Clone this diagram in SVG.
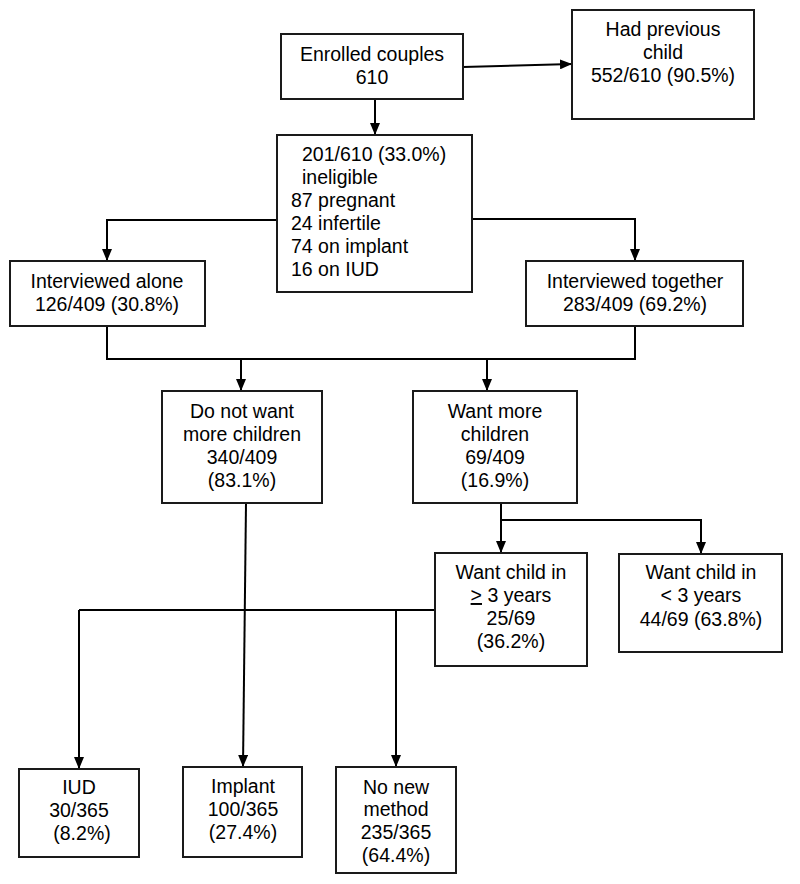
<svg xmlns="http://www.w3.org/2000/svg" width="800" height="884" viewBox="0 0 800 884">
<defs>
<marker id="ah" markerUnits="userSpaceOnUse" markerWidth="12" markerHeight="10" refX="12" refY="5" orient="auto">
<path d="M0,0 L12,5 L0,10 z" fill="#000"/>
</marker>
<style>
.box{fill:#fff;stroke:#1a1a1a;stroke-width:2}
.t{font-family:"Liberation Sans",Arial,sans-serif;font-size:19.5px;fill:#000;text-anchor:middle}
.l{text-anchor:start}
.c{fill:none;stroke:#000;stroke-width:2}
.a{fill:none;stroke:#000;stroke-width:2;marker-end:url(#ah)}
</style>
</defs>
<rect width="800" height="884" fill="#fff"/>
<g id="connectors">
<path class="a" d="M463,67 L572,64"/>
<path class="a" d="M375,99 L375,135"/>
<path class="a" d="M277,220 L107,220 L107,261"/>
<path class="a" d="M472,219 L635,219 L635,261"/>
<path class="c" d="M107,326 L107,359 L635,359 L635,326"/>
<path class="a" d="M241,359 L241,391"/>
<path class="a" d="M487,359 L487,391"/>
<path class="a" d="M501,503 L501,553"/>
<path class="a" d="M501,520 L701,520 L701,554"/>
<path class="a" d="M246,503 L243,767"/>
<path class="c" d="M79,610 L435,610"/>
<path class="a" d="M79,610 L79,769"/>
<path class="a" d="M396,610 L396,767"/>
</g>
<g id="enrolled">
<rect class="box" x="281" y="34" width="182" height="65"/>
<text class="t" x="372" y="61">Enrolled couples</text>
<text class="t" x="372" y="84">610</text>
</g>
<g id="previous">
<rect class="box" x="572" y="10" width="182" height="109"/>
<text class="t" x="663" y="36">Had previous</text>
<text class="t" x="663" y="59">child</text>
<text class="t" x="663" y="82">552/610 (90.5%)</text>
</g>
<g id="ineligible">
<rect class="box" x="277" y="135" width="195" height="157"/>
<text class="t l" x="302" y="161">201/610 (33.0%)</text>
<text class="t l" x="302" y="184">ineligible</text>
<text class="t l" x="291" y="207">87 pregnant</text>
<text class="t l" x="291" y="230">24 infertile</text>
<text class="t l" x="291" y="253">74 on implant</text>
<text class="t l" x="291" y="276">16 on IUD</text>
</g>
<g id="alone">
<rect class="box" x="10" y="261" width="195" height="65"/>
<text class="t" x="107" y="288">Interviewed alone</text>
<text class="t" x="107" y="311">126/409 (30.8%)</text>
</g>
<g id="together">
<rect class="box" x="526" y="261" width="217" height="65"/>
<text class="t" x="635" y="288">Interviewed together</text>
<text class="t" x="635" y="311">283/409 (69.2%)</text>
</g>
<g id="nomore">
<rect class="box" x="162" y="391" width="160" height="112"/>
<text class="t" x="242" y="418">Do not want</text>
<text class="t" x="242" y="441">more children</text>
<text class="t" x="242" y="464">340/409</text>
<text class="t" x="242" y="487">(83.1%)</text>
</g>
<g id="wantmore">
<rect class="box" x="413" y="391" width="164" height="112"/>
<text class="t" x="495" y="418">Want more</text>
<text class="t" x="495" y="441">children</text>
<text class="t" x="495" y="464">69/409</text>
<text class="t" x="495" y="487">(16.9%)</text>
</g>
<g id="later">
<rect class="box" x="435" y="553" width="152" height="113"/>
<text class="t" x="511" y="579">Want child in</text>
<text class="t" x="511" y="602"><tspan text-decoration="underline">&gt;</tspan> 3 years</text>
<text class="t" x="511" y="625">25/69</text>
<text class="t" x="511" y="648">(36.2%)</text>
</g>
<g id="soon">
<rect class="box" x="619" y="554" width="163" height="98"/>
<text class="t" x="701" y="579">Want child in</text>
<text class="t" x="701" y="602">&lt; 3 years</text>
<text class="t" x="701" y="626">44/69 (63.8%)</text>
</g>
<g id="iud">
<rect class="box" x="19" y="769" width="120" height="88"/>
<text class="t" x="79" y="794">IUD</text>
<text class="t" x="79" y="817">30/365</text>
<text class="t" x="82" y="840">(8.2%)</text>
</g>
<g id="implant">
<rect class="box" x="183" y="767" width="119" height="90"/>
<text class="t" x="243" y="793">Implant</text>
<text class="t" x="243" y="816">100/365</text>
<text class="t" x="243" y="839">(27.4%)</text>
</g>
<g id="nonew">
<rect class="box" x="336" y="767" width="120" height="106"/>
<text class="t" x="396" y="794">No new</text>
<text class="t" x="396" y="816">method</text>
<text class="t" x="396" y="839">235/365</text>
<text class="t" x="396" y="862">(64.4%)</text>
</g>
</svg>
